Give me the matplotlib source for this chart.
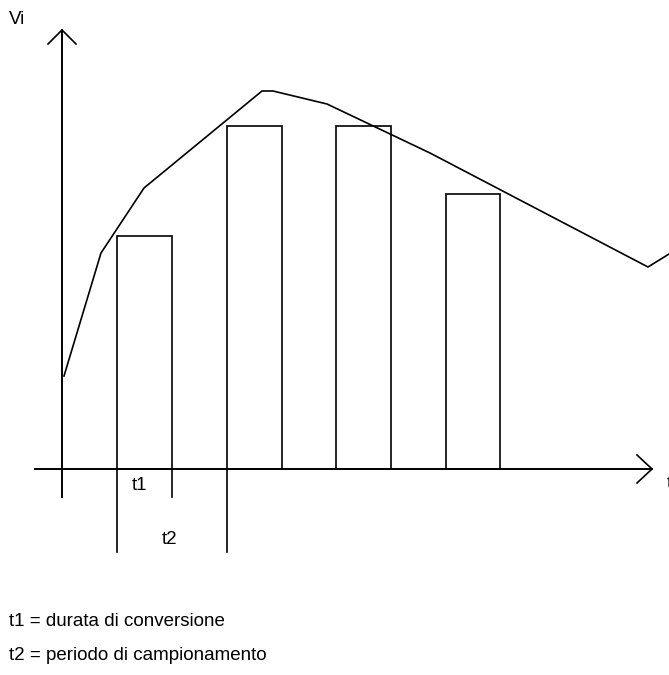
import matplotlib
matplotlib.use("Agg")
import matplotlib.pyplot as plt

plt.rcParams['font.family'] = ['Liberation Sans', 'DejaVu Sans']

# signal Vi(t) (pixel-like units, y grows downward)
curve_x = [64, 101, 144, 262, 273, 327, 430, 648, 669]
curve_y = [376, 253, 188, 91, 91, 104, 153, 267, 254]

# sample-and-hold levels
bar_left = [117, 227, 336, 446]
bar_right = [172, 282, 391, 500]
bar_top = [236, 126, 126, 194]

y0 = 469   # time axis
x0 = 62    # Vi axis

fig = plt.figure(figsize=(6.69, 6.75), dpi=100)
ax = fig.add_axes([0, 0, 1, 1])
ax.set_xlim(0, 669)
ax.set_ylim(675, 0)
ax.axis("off")

lw_ax = 1.4
lw = 1.2

# axes with open arrow heads
ax.plot([x0, x0], [30, 497], color="black", lw=lw_ax)
ax.plot([48, x0, 76], [44, 30, 44], color="black", lw=lw)
ax.plot([35, 652], [y0, y0], color="black", lw=lw_ax)
ax.plot([637, 652, 637], [455, y0, 483], color="black", lw=lw)

# held samples
widths = [r - l for l, r in zip(bar_left, bar_right)]
heights = [t - y0 for t in bar_top]
ax.bar(bar_left, heights, width=widths, bottom=y0, align="edge",
       fill=False, edgecolor="black", linewidth=lw)

# input signal
ax.plot(curve_x, curve_y, color="black", lw=lw)

# t1 / t2 markers
ax.plot([bar_left[0], bar_left[0]], [y0, 552], color="black", lw=lw)
ax.plot([bar_right[0], bar_right[0]], [y0, 497], color="black", lw=lw)
ax.plot([bar_left[1], bar_left[1]], [y0, 552], color="black", lw=lw)

fs = 13.5
ax.text(140, 485, "t1", fontsize=fs, ha="center", va="center")
ax.text(170, 540, "t2", fontsize=fs, ha="center", va="center")
ax.text(9, 20, "Vi", fontsize=fs, ha="left", va="center")
ax.text(667, 484, "t", fontsize=fs, ha="left", va="center")

ax.text(9, 622, "t1 = durata di conversione", fontsize=fs, ha="left", va="center")
ax.text(9, 656, "t2 = periodo di campionamento", fontsize=fs, ha="left", va="center")

fig.savefig("out.png", dpi=100)
